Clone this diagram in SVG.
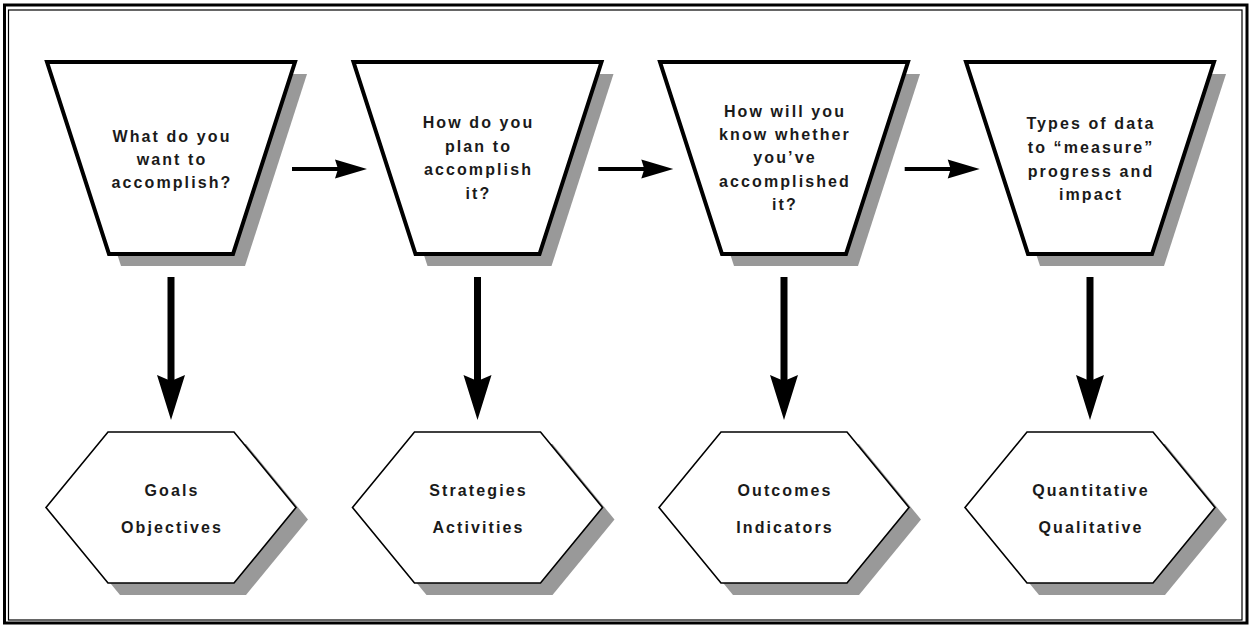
<svg xmlns="http://www.w3.org/2000/svg" xmlns:xlink="http://www.w3.org/1999/xlink" width="1250" height="626" viewBox="0 0 1250 626">
<style>
.shadow{fill:#999999;stroke:none}
.trap{fill:#ffffff;stroke:#000000;stroke-width:4;stroke-linejoin:miter}
.hex{fill:#ffffff;stroke:#000000;stroke-width:1.6;stroke-linejoin:miter}
.t{font-family:"Liberation Sans",Arial,sans-serif;font-weight:bold;font-size:16px;fill:#1a1a1a;text-anchor:middle;letter-spacing:2.1px}
.ah{fill:#000000;stroke:none}
.hl{stroke:#000000;stroke-width:4;fill:none}
.vl{stroke:#000000;stroke-width:7;fill:none}
</style>
<defs>
<polygon id="trapShape" points="-124,62 124,62 62,254 -62,254"/>
<polygon id="hexShape" points="-125,507.5 -63,432 63,432 125,507.5 63,583 -63,583"/>
</defs>
<rect x="0" y="0" width="1250" height="626" fill="#ffffff"/>
<g id="frame">
<rect x="4.5" y="5" width="1242.5" height="618" fill="none" stroke="#000000" stroke-width="3"/>
<rect x="8.5" y="10" width="1233.5" height="610" fill="none" stroke="#000000" stroke-width="1.2"/>
</g>
<g id="connectors">
<line class="hl" x1="292" y1="169" x2="340" y2="169"/>
<path class="ah" d="M367,169 L335,159.5 L338,169 L335,178.5 Z"/>
<line class="hl" x1="598.3" y1="169" x2="646.3" y2="169"/>
<path class="ah" d="M673.3,169 L641.3,159.5 L644.3,169 L641.3,178.5 Z"/>
<line class="hl" x1="904.7" y1="169" x2="952.7" y2="169"/>
<path class="ah" d="M979.7,169 L947.7,159.5 L950.7,169 L947.7,178.5 Z"/>
<line class="vl" x1="171" y1="277" x2="171" y2="382"/>
<path class="ah" d="M171,420 L157,375 L171,381 L185,375 Z"/>
<line class="vl" x1="477.5" y1="277" x2="477.5" y2="382"/>
<path class="ah" d="M477.5,420 L463.5,375 L477.5,381 L491.5,375 Z"/>
<line class="vl" x1="784" y1="277" x2="784" y2="382"/>
<path class="ah" d="M784,420 L770,375 L784,381 L798,375 Z"/>
<line class="vl" x1="1090" y1="277" x2="1090" y2="382"/>
<path class="ah" d="M1090,420 L1076,375 L1090,381 L1104,375 Z"/>
</g>
<g id="q1">
<use xlink:href="#trapShape" class="shadow" transform="translate(183,12)"/>
<use xlink:href="#trapShape" class="trap" transform="translate(171,0)"/>
<text class="t" x="172" y="142">What do you</text>
<text class="t" x="172" y="165">want to</text>
<text class="t" x="172" y="188">accomplish?</text>
</g>
<g id="q2">
<use xlink:href="#trapShape" class="shadow" transform="translate(489.5,12)"/>
<use xlink:href="#trapShape" class="trap" transform="translate(477.5,0)"/>
<text class="t" x="478.5" y="128">How do you</text>
<text class="t" x="478.5" y="151.5">plan to</text>
<text class="t" x="478.5" y="175">accomplish</text>
<text class="t" x="478.5" y="198.5">it?</text>
</g>
<g id="q3">
<use xlink:href="#trapShape" class="shadow" transform="translate(796,12)"/>
<use xlink:href="#trapShape" class="trap" transform="translate(784,0)"/>
<text class="t" x="785" y="117">How will you</text>
<text class="t" x="785" y="140">know whether</text>
<text class="t" x="785" y="163">you’ve</text>
<text class="t" x="785" y="186.5">accomplished</text>
<text class="t" x="785" y="209.5">it?</text>
</g>
<g id="q4">
<use xlink:href="#trapShape" class="shadow" transform="translate(1102,12)"/>
<use xlink:href="#trapShape" class="trap" transform="translate(1090,0)"/>
<text class="t" x="1091" y="129">Types of data</text>
<text class="t" x="1091" y="152.5">to “measure”</text>
<text class="t" x="1091" y="176.5">progress and</text>
<text class="t" x="1091" y="200">impact</text>
</g>
<g id="a1">
<use xlink:href="#hexShape" class="shadow" transform="translate(183,12)"/>
<use xlink:href="#hexShape" class="hex" transform="translate(171,0)"/>
<text class="t" x="172" y="496">Goals</text>
<text class="t" x="172" y="532.5">Objectives</text>
</g>
<g id="a2">
<use xlink:href="#hexShape" class="shadow" transform="translate(489.5,12)"/>
<use xlink:href="#hexShape" class="hex" transform="translate(477.5,0)"/>
<text class="t" x="478.5" y="496">Strategies</text>
<text class="t" x="478.5" y="532.5">Activities</text>
</g>
<g id="a3">
<use xlink:href="#hexShape" class="shadow" transform="translate(796,12)"/>
<use xlink:href="#hexShape" class="hex" transform="translate(784,0)"/>
<text class="t" x="785" y="496">Outcomes</text>
<text class="t" x="785" y="532.5">Indicators</text>
</g>
<g id="a4">
<use xlink:href="#hexShape" class="shadow" transform="translate(1102,12)"/>
<use xlink:href="#hexShape" class="hex" transform="translate(1090,0)"/>
<text class="t" x="1091" y="496">Quantitative</text>
<text class="t" x="1091" y="532.5">Qualitative</text>
</g>
</svg>
